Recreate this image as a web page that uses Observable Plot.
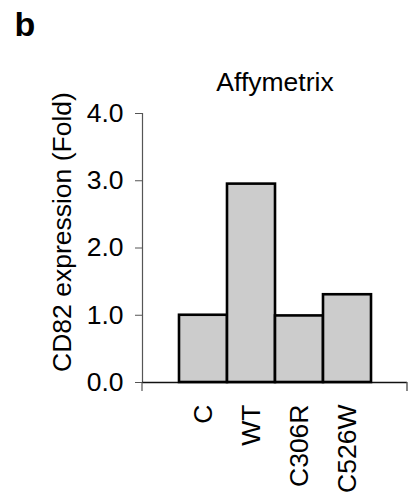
<!DOCTYPE html>
<html>
<head>
<meta charset="utf-8">
<script src="https://cdn.jsdelivr.net/npm/d3@7"></script>
<script src="https://cdn.jsdelivr.net/npm/@observablehq/plot@0.6"></script>
<style>
  html, body { margin: 0; padding: 0; background: white; }
</style>
</head>
<body>
<div id="chart"></div>
<script>
const panelLabel = "b";
const title = "Affymetrix";
const yLabel = "CD82 expression (Fold)";
const categories = ["C", "WT", "C306R", "C526W"];
const values = [1.0, 2.95, 0.99, 1.305];
const yTicks = [0, 1, 2, 3, 4];

const data = categories.map((c, i) => ({cat: c, value: values[i]}));
const font = "'Liberation Sans', Arial, Helvetica, sans-serif";
const FS = 26.5;

const W = 410, H = 496, ML = 142, MR = 3, MT = 113, MB = 114;

const plot = Plot.plot({
  width: W, height: H,
  marginLeft: ML, marginRight: MR, marginTop: MT, marginBottom: MB,
  style: {fontFamily: font, fontSize: FS + "px", color: "black", background: "white", overflow: "visible"},
  x: {domain: categories, padding: 0, insetLeft: 36, insetRight: 36, label: null},
  y: {domain: [0, 4], label: null},
  marks: [
    Plot.frame({anchor: "left", stroke: "#555", strokeWidth: 1.2}),
    Plot.axisY({ticks: yTicks, tickFormat: d3.format(".1f"), tickSize: 7, tickPadding: 12, stroke: "#555", fontSize: FS, label: null}),
    Plot.ruleY([0], {stroke: "#111", strokeWidth: 1.3}),
    Plot.barY(data, {x: "cat", y: "value", fill: "#cccccc", stroke: "black", strokeWidth: 2.6}),
    Plot.axisX({tickSize: 0, tickRotate: -90, tickPadding: 22, fontSize: FS, label: null}),
    Plot.text([title], {frameAnchor: "top", lineAnchor: "bottom", dy: -23, fontSize: FS}),
    Plot.text([yLabel], {frameAnchor: "left", textAnchor: "middle", lineAnchor: "middle", rotate: -90, dx: -80, dy: -16, fontSize: FS}),
    Plot.text([panelLabel], {frameAnchor: "top-left", textAnchor: "start", lineAnchor: "bottom", dx: 14 - ML, dy: 35 - MT, fontSize: 34, fontWeight: "bold"})
  ]
});

// axis end ticks (Excel-style)
const y0 = plot.scale("y").apply(0);
const svg = d3.select(plot.tagName === "svg" ? plot : plot.querySelector("svg"));
svg.append("line").attr("x1", ML).attr("x2", ML).attr("y1", y0).attr("y2", y0 + 9).attr("stroke", "#555").attr("stroke-width", 1.2);
svg.append("line").attr("x1", W - MR).attr("x2", W - MR).attr("y1", y0).attr("y2", y0 + 9).attr("stroke", "#555").attr("stroke-width", 1.4);

document.getElementById("chart").appendChild(plot);
</script>
</body>
</html>
